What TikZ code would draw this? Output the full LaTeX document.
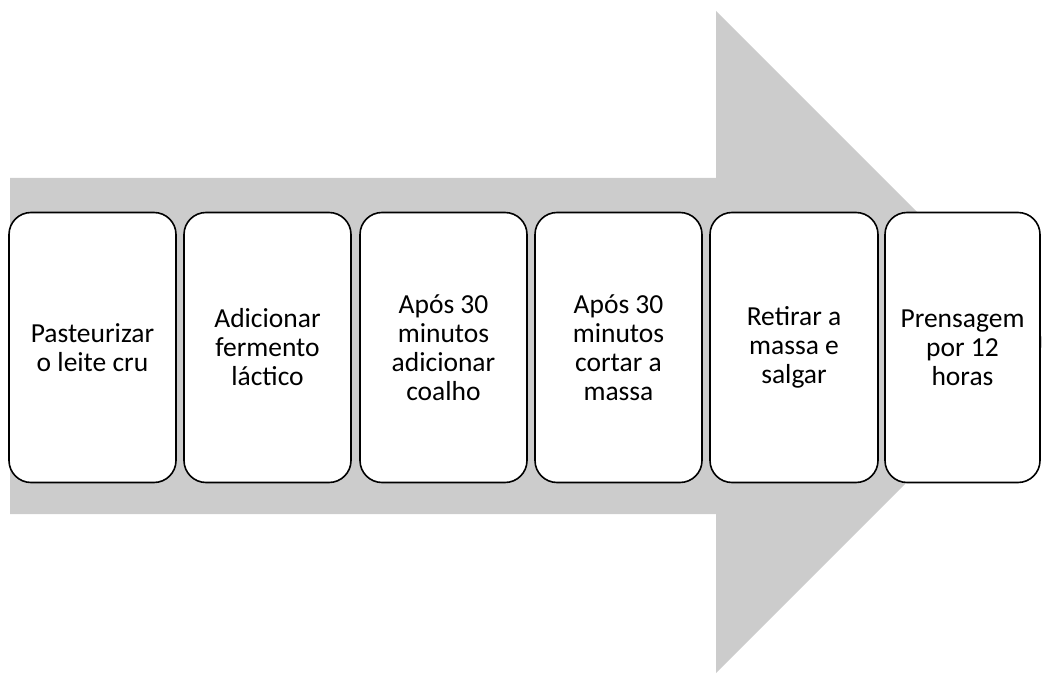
\documentclass[tikz,border=0pt]{standalone}
\usepackage{fontspec}
\setmainfont{Carlito}
\definecolor{arrowgray}{HTML}{CCCCCC}
\tikzset{
  stepbox/.style={draw=black, line width=1.6pt, fill=white, rounded corners=22pt,
    minimum height=270pt, inner sep=0pt, align=center,
    font=\fontsize{27.5pt}{29pt}\selectfont},
}
\begin{document}
\begin{tikzpicture}[x=1pt,y=-1pt]
\useasboundingbox (0,0) rectangle (1042,674);
\begin{scope}
\clip (0,0) rectangle (1042,674);
\fill[arrowgray] (10,178) -- (716,178) -- (716,11) -- (1047,342) -- (716,673) -- (716,514) -- (10,514) -- cycle;
\end{scope}
\node[stepbox, minimum width=167pt] (s1) at (92.5,347.5) {Pasteurizar\\o leite cru};
\node[stepbox, minimum width=167pt] (s2) at (267.5,347.5) {Adicionar\\fermento\\láctico};
\node[stepbox, minimum width=167pt] (s3) at (443.5,347.5) {Após 30\\minutos\\adicionar\\coalho};
\node[stepbox, minimum width=167pt] (s4) at (618.5,347.5) {Após 30\\minutos\\cortar a\\massa};
\node[stepbox, minimum width=168pt] (s5) at (794,347.5) {Retirar a\\massa e\\salgar};
\node[stepbox, minimum width=155pt] (s6) at (962.5,347.5) {Prensagem\\por 12\\horas};
\end{tikzpicture}
\end{document}
